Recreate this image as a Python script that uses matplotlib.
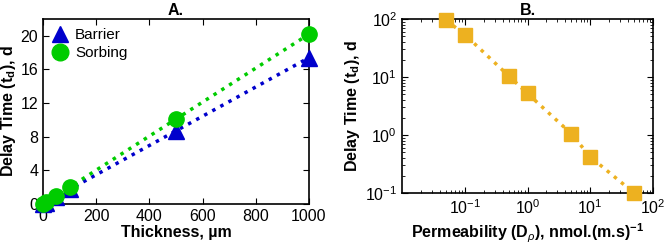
import numpy as np
import matplotlib.pyplot as plt
from matplotlib.lines import Line2D
from matplotlib.ticker import LogLocator, NullFormatter

plt.rcParams['font.family'] = ['Liberation Sans', 'DejaVu Sans']
plt.rcParams['mathtext.fontset'] = 'custom'
plt.rcParams['mathtext.rm'] = 'Liberation Sans'
plt.rcParams['mathtext.it'] = 'Liberation Sans:italic'
plt.rcParams['mathtext.bf'] = 'Liberation Sans:bold'

# Panel A: delay time vs thickness
thick = [0, 10, 50, 100, 500, 1000]
barrier = [0, 0.17, 0.87, 1.74, 8.7, 17.4]
sorbing = [0, 0.2, 1.0, 2.0, 10.1, 20.2]

# Panel B: delay time vs permeability
perm = [0.05, 0.1, 0.5, 1, 5, 10, 50]
delay = [96, 54, 10.5, 5.2, 1.05, 0.42, 0.1]

blue = '#0000CC'
green = '#00CC00'
orange = '#EDB120'

fig = plt.figure(figsize=(6.66, 2.46), dpi=100)
axA = fig.add_axes([43/666, 1-204/246, (309-43)/666, (204-19)/246])
axB = fig.add_axes([402/666, 1-193/246, (653-402)/666, (193-19)/246])

axA.plot(thick, barrier, ':', color=blue, lw=2.5, marker='^', ms=11,
         clip_on=False, zorder=3)
axA.plot(thick, sorbing, ':', color=green, lw=2.5, marker='o', ms=11,
         clip_on=False, zorder=4)
axA.set_xlim(0, 1000)
axA.set_ylim(0, 22)
axA.set_yticks([0, 4, 8, 12, 16, 20])
axA.set_xticks([0, 200, 400, 600, 800, 1000])
axA.set_xlabel('Thickness, µm', fontsize=11.5, fontweight='bold', labelpad=1)
axA.set_ylabel(r'Delay Time (t$_\mathbf{d}$), d', fontsize=11.5, fontweight='bold', labelpad=2)
axA.set_title('A.', fontsize=11.5, fontweight='bold', pad=3)
handles = [Line2D([], [], ls='none', marker='^', ms=12, color=blue),
           Line2D([], [], ls='none', marker='o', ms=12, color=green)]
axA.legend(handles, ['Barrier', 'Sorbing'], loc='upper left', frameon=False,
           fontsize=11, handletextpad=0.5, borderaxespad=0.2, handlelength=1.0,
           labelspacing=0.25)

axB.loglog(perm, delay, ':', color=orange, lw=2.5, marker='s', ms=10,
           clip_on=False, zorder=3)
axB.set_xlim(0.01, 100)
axB.set_ylim(0.1, 100)
axB.set_xticks([0.1, 1, 10, 100])
axB.set_yticks([0.1, 1, 10, 100])
axB.xaxis.set_minor_locator(LogLocator(base=10, subs=np.arange(2, 10), numticks=20))
axB.yaxis.set_minor_locator(LogLocator(base=10, subs=np.arange(2, 10), numticks=20))
axB.xaxis.set_minor_formatter(NullFormatter())
axB.yaxis.set_minor_formatter(NullFormatter())
axB.set_xlabel(r'Permeability (D$_\rho$), nmol.(m.s)$^{\mathbf{-1}}$', fontsize=11.5,
               fontweight='bold', labelpad=4)
axB.set_ylabel(r'Delay Time (t$_\mathbf{d}$), d', fontsize=11.5, fontweight='bold', labelpad=2)
axB.set_title('B.', fontsize=11.5, fontweight='bold', pad=3)

for ax in (axA, axB):
    ax.tick_params(which='both', direction='in', top=True, right=True, labelsize=11.5)
    ax.tick_params(which='major', length=4)
    ax.tick_params(which='minor', length=2)
    for s in ax.spines.values():
        s.set_linewidth(1.2)

fig.savefig('out.png', dpi=100)
